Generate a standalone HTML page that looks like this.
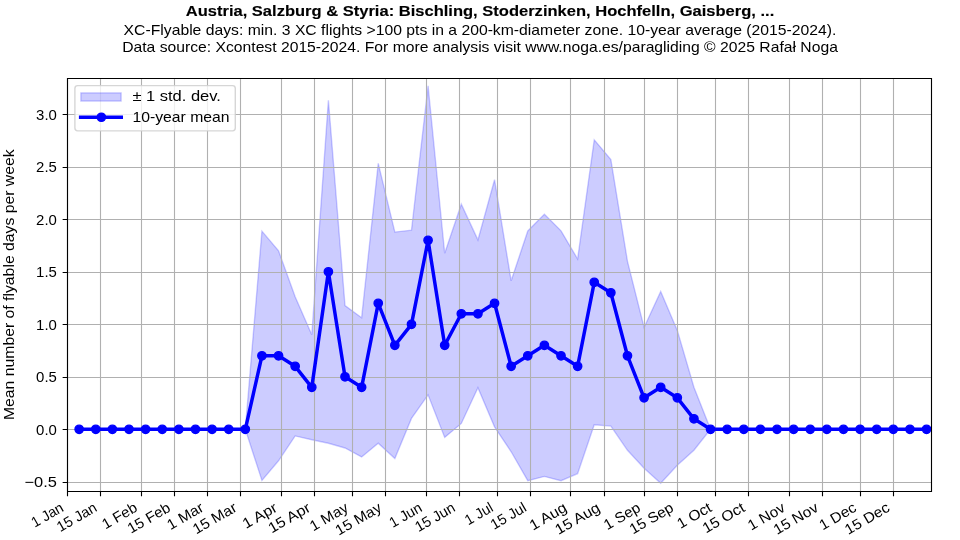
<!DOCTYPE html>
<html><head><meta charset="utf-8"><title>XC-Flyable days chart</title><style>
html,body{margin:0;padding:0;background:#fff;width:960px;height:540px;overflow:hidden;}
svg{display:block;will-change:transform;}
text{font-family:"Liberation Sans",sans-serif;fill:#000;}
</style></head><body>
<svg width="960" height="540" viewBox="0 0 960 540">
<rect x="0" y="0" width="960" height="540" fill="#fff"/>
<defs><clipPath id="ax"><rect x="67.15" y="78.2" width="864" height="413"/></clipPath></defs>
<path clip-path="url(#ax)" d="M79.16 429.3 L95.78 429.3 L112.39 429.3 L129.01 429.3 L145.62 429.3 L162.24 429.3 L178.85 429.3 L195.47 429.3 L212.08 429.3 L228.7 429.3 L245.31 429.3 L261.93 231.17 L278.55 250.8 L295.16 296.69 L311.78 334.8 L328.39 100.34 L345.01 305.61 L361.62 317.69 L378.24 163.34 L394.85 232.11 L411.47 230.22 L428.08 85.74 L444.7 253.22 L461.31 204.18 L477.93 239.88 L494.55 179.72 L511.16 280.83 L527.78 230.96 L544.39 214.15 L561.01 230.85 L577.62 258.99 L594.24 139.82 L610.85 159.56 L627.47 261.3 L644.08 327.45 L660.7 291.44 L677.31 330.39 L693.93 387.3 L710.55 429.3 L727.16 429.3 L743.78 429.3 L760.39 429.3 L777.01 429.3 L793.62 429.3 L810.24 429.3 L826.85 429.3 L843.47 429.3 L860.08 429.3 L876.7 429.3 L893.31 429.3 L909.93 429.3 L926.55 429.3 L926.55 429.3 L909.93 429.3 L893.31 429.3 L876.7 429.3 L860.08 429.3 L843.47 429.3 L826.85 429.3 L810.24 429.3 L793.62 429.3 L777.01 429.3 L760.39 429.3 L743.78 429.3 L727.16 429.3 L710.55 429.3 L693.93 450.3 L677.31 465.21 L660.7 483.17 L644.08 468.15 L627.47 450.3 L610.85 426.05 L594.24 424.79 L577.62 473.61 L561.01 480.75 L544.39 476.45 L527.78 480.65 L511.16 451.77 L494.55 426.89 L477.93 387.72 L461.31 423.42 L444.7 437.38 L428.08 394.86 L411.47 418.38 L394.85 458.49 L378.24 443.26 L361.62 456.92 L345.01 447.99 L328.39 443.26 L311.78 439.8 L295.16 435.92 L278.55 460.8 L261.93 480.44 L245.31 429.3 L228.7 429.3 L212.08 429.3 L195.47 429.3 L178.85 429.3 L162.24 429.3 L145.62 429.3 L129.01 429.3 L112.39 429.3 L95.78 429.3 L79.16 429.3Z" fill="#0000ff" fill-opacity="0.2" stroke="#0000ff" stroke-opacity="0.2" stroke-width="1.389" stroke-linejoin="miter"/>
<path d="M67.5 78.2V491.2M100.5 78.2V491.2M141.5 78.2V491.2M174.5 78.2V491.2M207.5 78.2V491.2M240.5 78.2V491.2M281.5 78.2V491.2M314.5 78.2V491.2M352.5 78.2V491.2M385.5 78.2V491.2M426.5 78.2V491.2M459.5 78.2V491.2M497.5 78.2V491.2M530.5 78.2V491.2M570.5 78.2V491.2M604.5 78.2V491.2M644.5 78.2V491.2M677.5 78.2V491.2M715.5 78.2V491.2M748.5 78.2V491.2M789.5 78.2V491.2M822.5 78.2V491.2M860.5 78.2V491.2M893.5 78.2V491.2M67.15 482.5H931.15M67.15 429.5H931.15M67.15 377.5H931.15M67.15 324.5H931.15M67.15 272.5H931.15M67.15 219.5H931.15M67.15 167.5H931.15M67.15 114.5H931.15" stroke="#b0b0b0" stroke-width="1.111" fill="none"/>
<path d="M67.5 491.5v4.861M100.5 491.5v4.861M141.5 491.5v4.861M174.5 491.5v4.861M207.5 491.5v4.861M240.5 491.5v4.861M281.5 491.5v4.861M314.5 491.5v4.861M352.5 491.5v4.861M385.5 491.5v4.861M426.5 491.5v4.861M459.5 491.5v4.861M497.5 491.5v4.861M530.5 491.5v4.861M570.5 491.5v4.861M604.5 491.5v4.861M644.5 491.5v4.861M677.5 491.5v4.861M715.5 491.5v4.861M748.5 491.5v4.861M789.5 491.5v4.861M822.5 491.5v4.861M860.5 491.5v4.861M893.5 491.5v4.861M67.5 482.5h-4.861M67.5 429.5h-4.861M67.5 377.5h-4.861M67.5 324.5h-4.861M67.5 272.5h-4.861M67.5 219.5h-4.861M67.5 167.5h-4.861M67.5 114.5h-4.861" stroke="#000" stroke-width="1.111" fill="none"/>
<g clip-path="url(#ax)"><path d="M79.16 429.3 L95.78 429.3 L112.39 429.3 L129.01 429.3 L145.62 429.3 L162.24 429.3 L178.85 429.3 L195.47 429.3 L212.08 429.3 L228.7 429.3 L245.31 429.3 L261.93 355.8 L278.55 355.8 L295.16 366.3 L311.78 387.3 L328.39 271.8 L345.01 376.8 L361.62 387.3 L378.24 303.3 L394.85 345.3 L411.47 324.3 L428.08 240.3 L444.7 345.3 L461.31 313.8 L477.93 313.8 L494.55 303.3 L511.16 366.3 L527.78 355.8 L544.39 345.3 L561.01 355.8 L577.62 366.3 L594.24 282.3 L610.85 292.8 L627.47 355.8 L644.08 397.8 L660.7 387.3 L677.31 397.8 L693.93 418.8 L710.55 429.3 L727.16 429.3 L743.78 429.3 L760.39 429.3 L777.01 429.3 L793.62 429.3 L810.24 429.3 L826.85 429.3 L843.47 429.3 L860.08 429.3 L876.7 429.3 L893.31 429.3 L909.93 429.3 L926.55 429.3" fill="none" stroke="#0000ff" stroke-width="3.472" stroke-linecap="square" stroke-linejoin="round"/>
<circle cx="79.16" cy="429.3" r="4.167" fill="#0000ff" stroke="#0000ff" stroke-width="1.389"/><circle cx="95.78" cy="429.3" r="4.167" fill="#0000ff" stroke="#0000ff" stroke-width="1.389"/><circle cx="112.39" cy="429.3" r="4.167" fill="#0000ff" stroke="#0000ff" stroke-width="1.389"/><circle cx="129.01" cy="429.3" r="4.167" fill="#0000ff" stroke="#0000ff" stroke-width="1.389"/><circle cx="145.62" cy="429.3" r="4.167" fill="#0000ff" stroke="#0000ff" stroke-width="1.389"/><circle cx="162.24" cy="429.3" r="4.167" fill="#0000ff" stroke="#0000ff" stroke-width="1.389"/><circle cx="178.85" cy="429.3" r="4.167" fill="#0000ff" stroke="#0000ff" stroke-width="1.389"/><circle cx="195.47" cy="429.3" r="4.167" fill="#0000ff" stroke="#0000ff" stroke-width="1.389"/><circle cx="212.08" cy="429.3" r="4.167" fill="#0000ff" stroke="#0000ff" stroke-width="1.389"/><circle cx="228.7" cy="429.3" r="4.167" fill="#0000ff" stroke="#0000ff" stroke-width="1.389"/><circle cx="245.31" cy="429.3" r="4.167" fill="#0000ff" stroke="#0000ff" stroke-width="1.389"/><circle cx="261.93" cy="355.8" r="4.167" fill="#0000ff" stroke="#0000ff" stroke-width="1.389"/><circle cx="278.55" cy="355.8" r="4.167" fill="#0000ff" stroke="#0000ff" stroke-width="1.389"/><circle cx="295.16" cy="366.3" r="4.167" fill="#0000ff" stroke="#0000ff" stroke-width="1.389"/><circle cx="311.78" cy="387.3" r="4.167" fill="#0000ff" stroke="#0000ff" stroke-width="1.389"/><circle cx="328.39" cy="271.8" r="4.167" fill="#0000ff" stroke="#0000ff" stroke-width="1.389"/><circle cx="345.01" cy="376.8" r="4.167" fill="#0000ff" stroke="#0000ff" stroke-width="1.389"/><circle cx="361.62" cy="387.3" r="4.167" fill="#0000ff" stroke="#0000ff" stroke-width="1.389"/><circle cx="378.24" cy="303.3" r="4.167" fill="#0000ff" stroke="#0000ff" stroke-width="1.389"/><circle cx="394.85" cy="345.3" r="4.167" fill="#0000ff" stroke="#0000ff" stroke-width="1.389"/><circle cx="411.47" cy="324.3" r="4.167" fill="#0000ff" stroke="#0000ff" stroke-width="1.389"/><circle cx="428.08" cy="240.3" r="4.167" fill="#0000ff" stroke="#0000ff" stroke-width="1.389"/><circle cx="444.7" cy="345.3" r="4.167" fill="#0000ff" stroke="#0000ff" stroke-width="1.389"/><circle cx="461.31" cy="313.8" r="4.167" fill="#0000ff" stroke="#0000ff" stroke-width="1.389"/><circle cx="477.93" cy="313.8" r="4.167" fill="#0000ff" stroke="#0000ff" stroke-width="1.389"/><circle cx="494.55" cy="303.3" r="4.167" fill="#0000ff" stroke="#0000ff" stroke-width="1.389"/><circle cx="511.16" cy="366.3" r="4.167" fill="#0000ff" stroke="#0000ff" stroke-width="1.389"/><circle cx="527.78" cy="355.8" r="4.167" fill="#0000ff" stroke="#0000ff" stroke-width="1.389"/><circle cx="544.39" cy="345.3" r="4.167" fill="#0000ff" stroke="#0000ff" stroke-width="1.389"/><circle cx="561.01" cy="355.8" r="4.167" fill="#0000ff" stroke="#0000ff" stroke-width="1.389"/><circle cx="577.62" cy="366.3" r="4.167" fill="#0000ff" stroke="#0000ff" stroke-width="1.389"/><circle cx="594.24" cy="282.3" r="4.167" fill="#0000ff" stroke="#0000ff" stroke-width="1.389"/><circle cx="610.85" cy="292.8" r="4.167" fill="#0000ff" stroke="#0000ff" stroke-width="1.389"/><circle cx="627.47" cy="355.8" r="4.167" fill="#0000ff" stroke="#0000ff" stroke-width="1.389"/><circle cx="644.08" cy="397.8" r="4.167" fill="#0000ff" stroke="#0000ff" stroke-width="1.389"/><circle cx="660.7" cy="387.3" r="4.167" fill="#0000ff" stroke="#0000ff" stroke-width="1.389"/><circle cx="677.31" cy="397.8" r="4.167" fill="#0000ff" stroke="#0000ff" stroke-width="1.389"/><circle cx="693.93" cy="418.8" r="4.167" fill="#0000ff" stroke="#0000ff" stroke-width="1.389"/><circle cx="710.55" cy="429.3" r="4.167" fill="#0000ff" stroke="#0000ff" stroke-width="1.389"/><circle cx="727.16" cy="429.3" r="4.167" fill="#0000ff" stroke="#0000ff" stroke-width="1.389"/><circle cx="743.78" cy="429.3" r="4.167" fill="#0000ff" stroke="#0000ff" stroke-width="1.389"/><circle cx="760.39" cy="429.3" r="4.167" fill="#0000ff" stroke="#0000ff" stroke-width="1.389"/><circle cx="777.01" cy="429.3" r="4.167" fill="#0000ff" stroke="#0000ff" stroke-width="1.389"/><circle cx="793.62" cy="429.3" r="4.167" fill="#0000ff" stroke="#0000ff" stroke-width="1.389"/><circle cx="810.24" cy="429.3" r="4.167" fill="#0000ff" stroke="#0000ff" stroke-width="1.389"/><circle cx="826.85" cy="429.3" r="4.167" fill="#0000ff" stroke="#0000ff" stroke-width="1.389"/><circle cx="843.47" cy="429.3" r="4.167" fill="#0000ff" stroke="#0000ff" stroke-width="1.389"/><circle cx="860.08" cy="429.3" r="4.167" fill="#0000ff" stroke="#0000ff" stroke-width="1.389"/><circle cx="876.7" cy="429.3" r="4.167" fill="#0000ff" stroke="#0000ff" stroke-width="1.389"/><circle cx="893.31" cy="429.3" r="4.167" fill="#0000ff" stroke="#0000ff" stroke-width="1.389"/><circle cx="909.93" cy="429.3" r="4.167" fill="#0000ff" stroke="#0000ff" stroke-width="1.389"/><circle cx="926.55" cy="429.3" r="4.167" fill="#0000ff" stroke="#0000ff" stroke-width="1.389"/></g>
<path d="M67.5 491.5V78.5M931.5 491.5V78.5M67.5 491.5H931.5M67.5 78.5H931.5" stroke="#000" stroke-width="1.111" fill="none" stroke-linecap="square"/>
<text x="56.9" y="487.09" text-anchor="end" font-size="14.6" textLength="32.4" lengthAdjust="spacingAndGlyphs">−0.5</text>
<text x="56.9" y="434.59" text-anchor="end" font-size="14.6" textLength="20.78" lengthAdjust="spacingAndGlyphs">0.0</text>
<text x="56.9" y="382.09" text-anchor="end" font-size="14.6" textLength="20.78" lengthAdjust="spacingAndGlyphs">0.5</text>
<text x="56.9" y="329.59" text-anchor="end" font-size="14.6" textLength="20.78" lengthAdjust="spacingAndGlyphs">1.0</text>
<text x="56.9" y="277.09" text-anchor="end" font-size="14.6" textLength="20.78" lengthAdjust="spacingAndGlyphs">1.5</text>
<text x="56.9" y="224.59" text-anchor="end" font-size="14.6" textLength="20.78" lengthAdjust="spacingAndGlyphs">2.0</text>
<text x="56.9" y="172.09" text-anchor="end" font-size="14.6" textLength="20.78" lengthAdjust="spacingAndGlyphs">2.5</text>
<text x="56.9" y="119.59" text-anchor="end" font-size="14.6" textLength="20.78" lengthAdjust="spacingAndGlyphs">3.0</text>
<text transform="translate(34.69 527.79) rotate(-30)" font-size="14.6" textLength="34.64" lengthAdjust="spacingAndGlyphs">1 Jan</text>
<text transform="translate(60.27 532.21) rotate(-30)" font-size="14.6" textLength="43.47" lengthAdjust="spacingAndGlyphs">15 Jan</text>
<text transform="translate(105.52 529.38) rotate(-30)" font-size="14.6" textLength="37.81" lengthAdjust="spacingAndGlyphs">1 Feb</text>
<text transform="translate(131.1 533.8) rotate(-30)" font-size="14.6" textLength="46.64" lengthAdjust="spacingAndGlyphs">15 Feb</text>
<text transform="translate(170.58 530.19) rotate(-30)" font-size="14.6" textLength="39.42" lengthAdjust="spacingAndGlyphs">1 Mar</text>
<text transform="translate(196.16 534.61) rotate(-30)" font-size="14.6" textLength="48.25" lengthAdjust="spacingAndGlyphs">15 Mar</text>
<text transform="translate(246.05 529.1) rotate(-30)" font-size="14.6" textLength="37.25" lengthAdjust="spacingAndGlyphs">1 Apr</text>
<text transform="translate(271.63 533.52) rotate(-30)" font-size="14.6" textLength="46.08" lengthAdjust="spacingAndGlyphs">15 Apr</text>
<text transform="translate(313.2 531.44) rotate(-30)" font-size="14.6" textLength="41.94" lengthAdjust="spacingAndGlyphs">1 May</text>
<text transform="translate(338.78 535.86) rotate(-30)" font-size="14.6" textLength="50.77" lengthAdjust="spacingAndGlyphs">15 May</text>
<text transform="translate(392.85 527.94) rotate(-30)" font-size="14.6" textLength="34.92" lengthAdjust="spacingAndGlyphs">1 Jun</text>
<text transform="translate(418.43 532.36) rotate(-30)" font-size="14.6" textLength="43.75" lengthAdjust="spacingAndGlyphs">15 Jun</text>
<text transform="translate(468.34 525.47) rotate(-30)" font-size="14.6" textLength="29.98" lengthAdjust="spacingAndGlyphs">1 Jul</text>
<text transform="translate(493.92 529.88) rotate(-30)" font-size="14.6" textLength="38.81" lengthAdjust="spacingAndGlyphs">15 Jul</text>
<text transform="translate(532.95 530.65) rotate(-30)" font-size="14.6" textLength="40.34" lengthAdjust="spacingAndGlyphs">1 Aug</text>
<text transform="translate(558.53 535.07) rotate(-30)" font-size="14.6" textLength="49.17" lengthAdjust="spacingAndGlyphs">15 Aug</text>
<text transform="translate(607.35 530.18) rotate(-30)" font-size="14.6" textLength="39.39" lengthAdjust="spacingAndGlyphs">1 Sep</text>
<text transform="translate(632.93 534.6) rotate(-30)" font-size="14.6" textLength="48.22" lengthAdjust="spacingAndGlyphs">15 Sep</text>
<text transform="translate(680.43 529.09) rotate(-30)" font-size="14.6" textLength="37.23" lengthAdjust="spacingAndGlyphs">1 Oct</text>
<text transform="translate(706.01 533.51) rotate(-30)" font-size="14.6" textLength="46.06" lengthAdjust="spacingAndGlyphs">15 Oct</text>
<text transform="translate(751.34 530.64) rotate(-30)" font-size="14.6" textLength="40.33" lengthAdjust="spacingAndGlyphs">1 Nov</text>
<text transform="translate(776.91 535.06) rotate(-30)" font-size="14.6" textLength="49.16" lengthAdjust="spacingAndGlyphs">15 Nov</text>
<text transform="translate(822.75 530.53) rotate(-30)" font-size="14.6" textLength="40.09" lengthAdjust="spacingAndGlyphs">1 Dec</text>
<text transform="translate(848.32 534.94) rotate(-30)" font-size="14.6" textLength="48.92" lengthAdjust="spacingAndGlyphs">15 Dec</text>
<text transform="translate(14.06 284.7) rotate(-90)" text-anchor="middle" font-size="14.6" textLength="270.7" lengthAdjust="spacingAndGlyphs">Mean number of flyable days per week</text>
<path d="M77.678 130.9H232.522Q235.3 130.9 235.3 128.122V88.378Q235.3 85.6 232.522 85.6H77.678Q74.9 85.6 74.9 88.378V128.122Q74.9 130.9 77.678 130.9Z" fill="#fff" fill-opacity="0.8" stroke="#cccccc" stroke-opacity="0.8" stroke-width="1.389"/>
<rect x="80.87" y="92.9" width="40.23" height="8.16" fill="#0000ff" fill-opacity="0.2" stroke="#0000ff" stroke-opacity="0.2" stroke-width="1.389"/>
<path d="M78.9 117.3H123" stroke="#0000ff" stroke-width="3.472"/>
<circle cx="101.36" cy="117.25" r="4.167" fill="#0000ff" stroke="#0000ff" stroke-width="1.389"/>
<text x="132.43" y="101.25" font-size="14.6" textLength="88.47" lengthAdjust="spacingAndGlyphs">± 1 std. dev.</text>
<text x="132.43" y="121.64" font-size="14.6" textLength="97.14" lengthAdjust="spacingAndGlyphs">10-year mean</text>
<text x="480" y="15.75" text-anchor="middle" font-size="14.6" font-weight="bold" stroke="#000" stroke-width="0.12" textLength="588.52" lengthAdjust="spacingAndGlyphs">Austria, Salzburg &amp; Styria: Bischling, Stoderzinken, Hochfelln, Gaisberg, ...</text>
<text x="480" y="34.8" text-anchor="middle" font-size="14.6" textLength="712.8" lengthAdjust="spacingAndGlyphs">XC-Flyable days: min. 3 XC flights &gt;100 pts in a 200-km-diameter zone. 10-year average (2015-2024).</text>
<text x="480" y="51.85" text-anchor="middle" font-size="14.6" textLength="715.75" lengthAdjust="spacingAndGlyphs">Data source: Xcontest 2015-2024. For more analysis visit www.noga.es/paragliding © 2025 Rafał Noga</text>
</svg>
</body></html>
